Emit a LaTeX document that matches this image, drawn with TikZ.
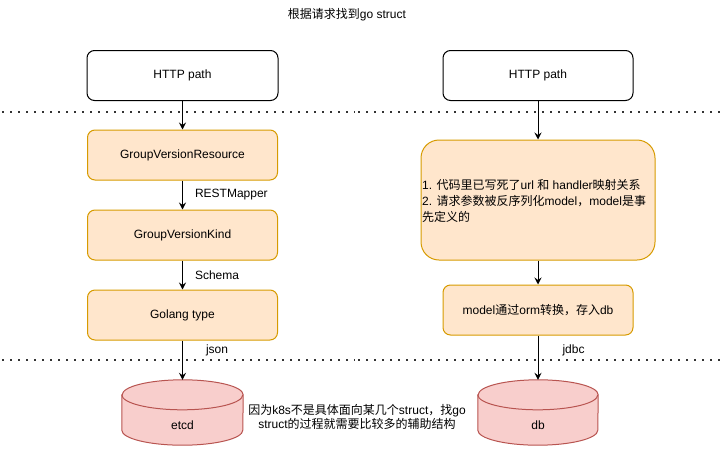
\documentclass[tikz,border=0pt]{standalone}
\usepackage{fontspec}
\setmainfont{Liberation Sans}
\newfontfamily\cjk{Noto Sans CJK SC}
\usetikzlibrary{arrows.meta}
\definecolor{ocfill}{HTML}{FFE6CC}
\definecolor{ocstroke}{HTML}{D79B00}
\definecolor{rdfill}{HTML}{F8CECC}
\definecolor{rdstroke}{HTML}{B85450}
\begin{document}
\begin{tikzpicture}[x=1pt,y=1pt,
  every node/.style={font=\fontsize{12pt}{14pt}\selectfont},
  plainbox/.style={draw=black, fill=white, line width=1pt, rounded corners=7.5pt, minimum width=191pt, minimum height=50pt, inner sep=0pt},
  orangebox/.style={draw=ocstroke, fill=ocfill, line width=1pt, rounded corners=7.5pt, minimum width=190pt, minimum height=50pt, inner sep=0pt},
  bigbox/.style={draw=ocstroke, fill=ocfill, line width=1pt, rounded corners=18pt, minimum width=234pt, minimum height=120pt, inner sep=0pt},
  cylholder/.style={minimum width=121pt, minimum height=65pt, inner sep=0pt},
  cylbody/.style={draw=rdstroke, fill=rdfill, line width=1pt},
  cylrim/.style={draw=rdstroke, line width=1pt},
  arr/.style={-{Stealth[length=7pt,width=7pt,inset=2.5pt]}, line width=1pt, black},
  dotline/.style={line width=2pt, dash pattern=on 2pt off 6pt, line cap=butt, black!80},
  elabel/.style={anchor=west, inner sep=0pt}
]
\useasboundingbox (0,0) rectangle (720,-469);

% title
\node (title) at (347,-15) {{\cjk 根据请求找到}go struct};

% dotted separators
\coordinate (d1a) at (2,-112);
\coordinate (d1b) at (355,-112);
\coordinate (d1c) at (358,-112);
\coordinate (d1d) at (720,-112);
\coordinate (d2a) at (2,-360);
\coordinate (d2b) at (355,-360);
\coordinate (d2c) at (358,-360);
\coordinate (d2d) at (720,-360);
\draw[dotline] (d1a) -- (d1b);
\draw[dotline] (d1c) -- (d1d);
\draw[dotline] (d2a) -- (d2b);
\draw[dotline] (d2c) -- (d2d);

% left column
\node[plainbox] (http1) at (182.5,-75.5) {HTTP path};
\node[orangebox] (gvr) at (182.5,-155) {GroupVersionResource};
\node[orangebox] (gvk) at (182.5,-235) {GroupVersionKind};
\node[orangebox] (golang) at (182.5,-315) {Golang type};
\node[cylholder] (etcd) at (182.5,-412.5) {};

% right column
\node[plainbox, minimum width=190pt] (http2) at (538,-75.5) {HTTP path};
\node[bigbox] (big) at (538,-200) {};
\node[anchor=west, align=left, inner sep=0pt, font=\fontsize{12pt}{16pt}\selectfont] (bigtxt) at (422,-201)
  {1. {\cjk 代码里已写死了}url {\cjk 和} handler{\cjk 映射关系}\\
   2. {\cjk 请求参数被反序列化}model{\cjk ，}model{\cjk 是事}\\
   {\cjk 先定义的}};
\node[orangebox] (model) at (538,-310) {model{\cjk 通过}orm{\cjk 转换，存入}db};
\node[cylholder, minimum width=120pt] (db) at (538,-412.5) {};

% cylinders
\draw[cylbody] ([yshift=-15pt]etcd.north west) -- ([yshift=15pt]etcd.south west)
  arc[start angle=180, end angle=360, x radius=60.5pt, y radius=15pt]
  -- ([yshift=-15pt]etcd.north east)
  arc[start angle=0, end angle=180, x radius=60.5pt, y radius=15pt] -- cycle;
\draw[cylrim] ([yshift=-15pt]etcd.north west)
  arc[start angle=180, end angle=360, x radius=60.5pt, y radius=15pt];
\node (etcdtxt) at ([yshift=-12.5pt]etcd.center) {etcd};

\draw[cylbody] ([yshift=-15pt]db.north west) -- ([yshift=15pt]db.south west)
  arc[start angle=180, end angle=360, x radius=60pt, y radius=15pt]
  -- ([yshift=-15pt]db.north east)
  arc[start angle=0, end angle=180, x radius=60pt, y radius=15pt] -- cycle;
\draw[cylrim] ([yshift=-15pt]db.north west)
  arc[start angle=180, end angle=360, x radius=60pt, y radius=15pt];
\node (dbtxt) at ([yshift=-12.5pt]db.center) {db};

% annotation
\node[align=center, inner sep=0pt] (note) at (357,-417)
  {{\cjk 因为}k8s{\cjk 不是具体面向某几个}struct{\cjk ，找}go\\
   struct{\cjk 的过程就需要比较多的辅助结构}};

% connectors
\draw[arr] (http1.south) -- (gvr.north);
\draw[arr] (gvr.south) -- node[elabel, xshift=12pt] (lrest) {RESTMapper} (gvk.north);
\draw[arr] (gvk.south) -- node[elabel, xshift=12pt] (lschema) {Schema} (golang.north);
\draw[arr] (golang.south) -- node[elabel, pos=0.25, xshift=23pt] (ljson) {json} (etcd.north);

\draw[arr] (http2.south) -- (big.north);
\draw[arr] (big.south) -- (model.north);
\draw[arr] (model.south) -- node[elabel, pos=0.33, xshift=24pt] (ljdbc) {jdbc} (db.north);
\end{tikzpicture}
\end{document}
